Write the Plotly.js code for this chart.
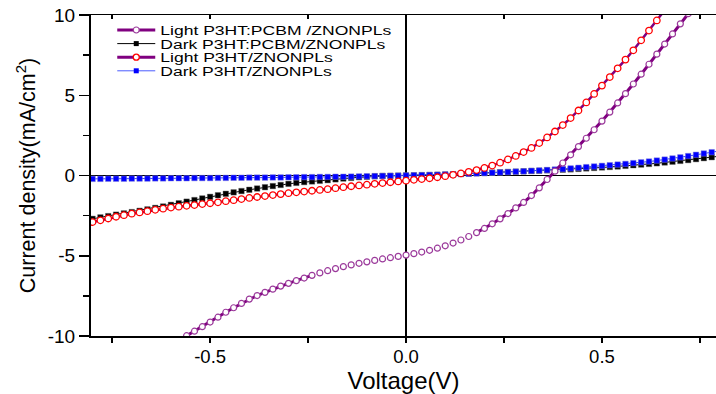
<!DOCTYPE html>
<html>
<head>
<meta charset="utf-8">
<script src="https://cdn.plot.ly/plotly-3.0.1.min.js"></script>
<style>
  html, body { margin: 0; padding: 0; background: #fff; }
  #chart { width: 716px; height: 394px; }
</style>
</head>
<body>
<div id="chart"></div>
<script>
// ---------- DATA ----------
const voltage = [
  -0.80, -0.78, -0.76, -0.74, -0.72, -0.70, -0.68, -0.66, -0.64, -0.62,
  -0.60, -0.58, -0.56, -0.54, -0.52, -0.50, -0.48, -0.46, -0.44, -0.42,
  -0.40, -0.38, -0.36, -0.34, -0.32, -0.30, -0.28, -0.26, -0.24, -0.22,
  -0.20, -0.18, -0.16, -0.14, -0.12, -0.10, -0.08, -0.06, -0.04, -0.02,
   0.00,  0.02,  0.04,  0.06,  0.08,  0.10,  0.12,  0.14,  0.16,  0.18,
   0.20,  0.22,  0.24,  0.26,  0.28,  0.30,  0.32,  0.34,  0.36,  0.38,
   0.40,  0.42,  0.44,  0.46,  0.48,  0.50,  0.52,  0.54,  0.56,  0.58,
   0.60,  0.62,  0.64,  0.66,  0.68,  0.70,  0.72,  0.74,  0.76,  0.78,
   0.80
];

// Light P3HT:PCBM /ZNONPLs
const lightPCBM = [
  null, null, null, null, null, null, null, null, null, null,
  null, -10.28, -9.98, -9.70, -9.42, -9.13, -8.83, -8.52, -8.24, -7.97,
  -7.70, -7.48, -7.28, -7.08, -6.89, -6.72, -6.55, -6.39, -6.22, -6.07,
  -5.93, -5.80, -5.68, -5.57, -5.47, -5.38, -5.29, -5.20, -5.12, -5.04,
  -4.96, -4.87, -4.77, -4.66, -4.53, -4.38, -4.21, -4.02, -3.80, -3.56,
  -3.30, -3.01, -2.70, -2.37, -2.02, -1.68, -1.25, -0.77, -0.25, 0.27,
   0.78, 1.29, 1.80, 2.32, 2.85, 3.39, 3.95, 4.52, 5.10, 5.70,
   6.31, 6.93, 7.56, 8.19, 8.82, 9.45, 10.08, 10.70, null, null,
  null
];

// Dark P3HT:PCBM/ZNONPLs
const darkPCBM = [
  -2.70, -2.61, -2.53, -2.44, -2.36, -2.28, -2.20, -2.11, -2.02, -1.93,
  -1.83, -1.73, -1.63, -1.53, -1.43, -1.33, -1.23, -1.14, -1.05, -0.97,
  -0.89, -0.81, -0.73, -0.66, -0.59, -0.52, -0.46, -0.41, -0.37, -0.33,
  -0.29, -0.24, -0.19, -0.15, -0.11, -0.08, -0.05, -0.03, -0.02, -0.01,
   0.00, 0.01, 0.02, 0.03, 0.05, 0.06, 0.08, 0.10, 0.12, 0.14,
   0.16, 0.18, 0.20, 0.22, 0.24, 0.26, 0.28, 0.30, 0.32, 0.34,
   0.36, 0.38, 0.41, 0.44, 0.47, 0.50, 0.53, 0.56, 0.60, 0.64,
   0.68, 0.72, 0.76, 0.81, 0.86, 0.91, 0.96, 1.02, 1.08, 1.14,
   1.20
];

// Light P3HT/ZNONPLs
const lightP3HT = [
  -2.90, -2.79, -2.68, -2.57, -2.47, -2.38, -2.30, -2.22, -2.14, -2.07,
  -2.00, -1.94, -1.89, -1.84, -1.78, -1.73, -1.67, -1.60, -1.54, -1.47,
  -1.40, -1.34, -1.28, -1.22, -1.16, -1.10, -1.05, -1.00, -0.95, -0.90,
  -0.85, -0.79, -0.73, -0.67, -0.62, -0.57, -0.52, -0.47, -0.42, -0.37,
  -0.32, -0.27, -0.22, -0.17, -0.11, -0.04, 0.04, 0.13, 0.23, 0.34,
   0.47, 0.62, 0.80, 1.00, 1.22, 1.46, 1.72, 2.02, 2.37, 2.74,
   3.14, 3.58, 4.05, 4.55, 5.08, 5.60, 6.13, 6.68, 7.22, 7.80,
   8.42, 9.03, 9.66, 10.30, null, null, null, null, null, null,
  null
];

// Dark P3HT/ZNONPLs
const darkP3HT = [
  -0.21, -0.21, -0.20, -0.20, -0.20, -0.19, -0.19, -0.19, -0.18, -0.18,
  -0.17, -0.17, -0.17, -0.16, -0.16, -0.16, -0.15, -0.15, -0.14, -0.14,
  -0.13, -0.13, -0.13, -0.12, -0.12, -0.11, -0.11, -0.10, -0.10, -0.09,
  -0.09, -0.08, -0.08, -0.07, -0.06, -0.05, -0.04, -0.03, -0.02, -0.01,
   0.00, 0.01, 0.02, 0.03, 0.04, 0.06, 0.07, 0.09, 0.11, 0.13,
   0.15, 0.17, 0.19, 0.21, 0.24, 0.26, 0.29, 0.31, 0.34, 0.37,
   0.40, 0.44, 0.48, 0.52, 0.56, 0.60, 0.64, 0.68, 0.72, 0.77,
   0.82, 0.87, 0.93, 0.99, 1.06, 1.13, 1.21, 1.29, 1.37, 1.45,
   1.53
];

const seriesNames = [
  'Light P3HT:PCBM /ZNONPLs',
  'Dark P3HT:PCBM/ZNONPLs',
  'Light P3HT/ZNONPLs',
  'Dark P3HT/ZNONPLs'
];

// tick values and labels (hyphen minus, as in the reference)
const xTickVals = [-0.5, 0, 0.5];
const xTickText = ['-0.5', '0.0', '0.5'];
const yTickVals = [-10, -5, 0, 5, 10];
const yTickText = ['-10', '-5', '0', '5', '10'];

// voltage window where the purple connecting line of the first series is not drawn
const lineGap = [-0.23, 0.17];

const xTitle = 'Voltage(V)';
const yTitle = 'Current density(mA/cm<sup>2</sup>)';

// ---------- STYLE ----------
const PURPLE = '#800080';
const FONT = 'Liberation Sans, Arial, sans-serif';

const lightPCBMLine = lightPCBM.map((v, i) =>
  (voltage[i] > lineGap[0] && voltage[i] < lineGap[1]) ? null : v);

const data = [
  // legend-only entries (legend order)
  { x: [null], y: [null], name: seriesNames[0], mode: 'lines+markers',
    line: { color: PURPLE, width: 3 },
    marker: { symbol: 'circle', size: 6, color: '#ffffff', line: { color: '#9b3a9b', width: 1.2 } } },
  { x: [null], y: [null], name: seriesNames[1], mode: 'lines+markers',
    line: { color: '#000000', width: 1 },
    marker: { symbol: 'square', size: 5, color: '#000000' } },
  { x: [null], y: [null], name: seriesNames[2], mode: 'lines+markers',
    line: { color: PURPLE, width: 3 },
    marker: { symbol: 'circle', size: 6, color: '#ffffff', line: { color: '#ff0000', width: 1.3 } } },
  { x: [null], y: [null], name: seriesNames[3], mode: 'lines+markers',
    line: { color: '#4a5cff', width: 1 },
    marker: { symbol: 'square', size: 5, color: '#0000ff' } },

  // plotted data
  { x: voltage, y: darkPCBM, mode: 'lines+markers', showlegend: false,
    line: { color: '#000000', width: 1 },
    marker: { symbol: 'square', size: 5.5, color: '#000000', line: { color: 'rgba(90,90,90,0.5)', width: 0.8 } } },
  { x: voltage, y: darkP3HT, mode: 'lines+markers', showlegend: false,
    line: { color: '#3344ff', width: 1 },
    marker: { symbol: 'square', size: 5.5, color: '#0000ff', line: { color: 'rgba(120,120,220,0.6)', width: 0.8 } } },
  { x: voltage, y: lightP3HT, mode: 'lines+markers', showlegend: false,
    line: { color: PURPLE, width: 2.5 },
    marker: { symbol: 'circle', size: 6.5, color: '#ffffff', line: { color: '#ff0000', width: 1.3 } } },
  { x: voltage, y: lightPCBMLine, mode: 'lines', showlegend: false, connectgaps: false,
    line: { color: PURPLE, width: 3 } },
  { x: voltage, y: lightPCBM, mode: 'markers', showlegend: false,
    marker: { symbol: 'circle', size: 6, color: '#ffffff', line: { color: '#9b3a9b', width: 1.2 } } },

  // dummy trace so the top (mirror) axis is built
  { x: [null], y: [null], xaxis: 'x2', showlegend: false, hoverinfo: 'skip', mode: 'markers' }
];

const xRange = [-0.804, 0.791];

const layout = {
  width: 716, height: 394,
  margin: { l: 91, r: 0, t: 15, b: 58, pad: 0 },
  paper_bgcolor: '#ffffff', plot_bgcolor: '#ffffff',
  font: { family: FONT, color: '#000000' },
  showlegend: true,
  legend: {
    x: 0.034, y: 0.985, xanchor: 'left', yanchor: 'top',
    bgcolor: 'rgba(0,0,0,0)', borderwidth: 0,
    font: { family: FONT, size: 13.5, color: '#000' },
    itemwidth: 38, traceorder: 'normal'
  },
  xaxis: {
    range: xRange, showgrid: false,
    showline: true, linecolor: '#000', linewidth: 1.5,
    zeroline: true, zerolinecolor: '#000', zerolinewidth: 2.2,
    ticks: 'outside', ticklen: 5, tickwidth: 1.5, tickcolor: '#000',
    tickmode: 'array', tickvals: xTickVals, ticktext: xTickText, ticklabelstandoff: -2,
    minor: { dtick: 0.25, tick0: 0, ticks: 'outside', ticklen: 5, tickwidth: 1.5, tickcolor: '#000', showgrid: false },
    tickfont: { family: FONT, size: 18.5, color: '#000' },
    title: { text: xTitle, font: { family: FONT, size: 24, color: '#000' }, standoff: 10 }
  },
  xaxis2: {
    overlaying: 'x', side: 'top', anchor: 'y', matches: 'x',
    range: xRange, showgrid: false, zeroline: false,
    showline: true, linecolor: '#000', linewidth: 1.5,
    ticks: 'inside', ticklen: 4, tickwidth: 1.5, tickcolor: '#000',
    dtick: 0.25, tick0: 0, showticklabels: false
  },
  yaxis: {
    range: [-10, 10], showgrid: false,
    showline: true, linecolor: '#000', linewidth: 2,
    zeroline: true, zerolinecolor: '#000', zerolinewidth: 1,
    ticks: 'outside', ticklen: 10, tickwidth: 1.5, tickcolor: '#000',
    tickmode: 'array', tickvals: yTickVals, ticktext: yTickText,
    minor: { dtick: 2.5, tick0: 0, ticks: 'outside', ticklen: 6, tickwidth: 1.5, tickcolor: '#000', showgrid: false },
    tickfont: { family: FONT, size: 19, color: '#000' },
    title: { text: yTitle, font: { family: FONT, size: 21.5, color: '#000' }, standoff: 6 }
  }
};

Plotly.newPlot('chart', data, layout, { staticPlot: true, displayModeBar: false }).then(function (gd) {
  // tighten legend rows and widen legend text like the reference
  const leg = gd.querySelector('.legend');
  leg.querySelectorAll('[clip-path]').forEach(function (e) { e.removeAttribute('clip-path'); });
  let ly = 0;
  const m = /translate\(\s*([-\d.]+)[ ,]+([-\d.]+)/.exec(leg.getAttribute('transform') || '');
  if (m) ly = parseFloat(m[2]);
  const items = leg.querySelectorAll('.traces');
  items.forEach(function (it, i) {
    it.setAttribute('transform', 'translate(0,' + (30 + 13.6 * i - ly) + ')');
    const t = it.querySelector('.legendtext');
    if (t) {
      const tx = parseFloat(t.getAttribute('x')) || 40;
      t.setAttribute('transform', 'translate(' + tx + ',0) scale(1.3,1) translate(' + (-tx) + ',0)');
    }
  });
});
</script>
</body>
</html>
